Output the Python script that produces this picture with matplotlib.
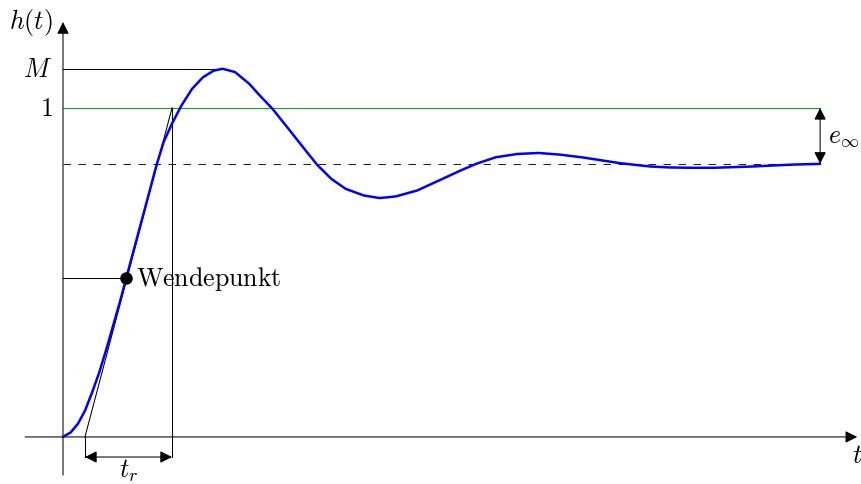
import matplotlib
matplotlib.use("Agg")
import matplotlib.pyplot as plt

plt.rcParams['mathtext.fontset'] = 'cm'
plt.rcParams['font.family'] = ['DejaVu Serif']

# ---- data (t in time units, h normalised so that 1 = reference level)
t_curve = [0.000, 0.102, 0.197, 0.291, 0.384, 0.479, 0.573, 0.668, 0.762, 0.834, 0.951, 1.092,
           1.234, 1.329, 1.437, 1.564, 1.705, 1.848, 1.989, 2.107, 2.272, 2.461, 2.602, 2.768,
           2.980, 3.169, 3.357, 3.546, 3.734, 3.971, 4.182, 4.395, 4.678, 4.962, 5.244, 5.456,
           5.716, 5.999, 6.283, 6.566, 6.848, 7.132, 7.358, 7.754, 8.018, 8.322, 8.587, 8.851,
           9.115, 9.379, 9.670, 10.000]
h_curve = [0.000, 0.014, 0.040, 0.080, 0.135, 0.196, 0.267, 0.343, 0.419, 0.482, 0.582, 0.703,
           0.825, 0.896, 0.951, 1.007, 1.058, 1.093, 1.113, 1.119, 1.109, 1.073, 1.037, 0.997,
           0.936, 0.881, 0.827, 0.784, 0.754, 0.734, 0.726, 0.731, 0.749, 0.779, 0.809, 0.830,
           0.850, 0.860, 0.863, 0.858, 0.850, 0.840, 0.832, 0.822, 0.819, 0.818, 0.818, 0.820,
           0.822, 0.825, 0.828, 0.830]

M_value = 1.119          # overshoot maximum
t_M = 2.107              # time of maximum
h_ref = 1.0              # reference value
h_inf = 0.830            # steady state value
t_w, h_w = 0.834, 0.482  # inflection point (Wendepunkt)
tan_t0, tan_t1 = 0.29, 1.44   # tangent crossing h=0 and h=1
t_end = 10.0

fig = plt.figure(figsize=(8.61, 4.85), dpi=100)
ax = fig.add_axes([0, 0, 1, 1])
ax.set_xlim(-0.832, 10.54)
ax.set_ylim(-0.143, 1.331)
ax.axis('off')

lw_thin = 0.75
fs = 18.6

# axes with arrows
arrow_kw = dict(arrowstyle='-|>', color='black', lw=lw_thin, shrinkA=0, shrinkB=0,
                mutation_scale=18)
ax.annotate('', xy=(0, 1.261), xytext=(0, -0.116), arrowprops=arrow_kw)
ax.annotate('', xy=(10.49, 0), xytext=(-0.50, 0), arrowprops=arrow_kw)

# reference lines
ax.plot([0, t_end], [h_ref, h_ref], color='#10a810', lw=lw_thin, zorder=2)
ax.plot([0, t_end], [h_inf, h_inf], color='#222222', lw=lw_thin, dashes=(7.2, 7.2), zorder=2)
ax.plot([0, t_M], [M_value, M_value], color='black', lw=lw_thin, zorder=2)
ax.plot([0, t_w], [h_w, h_w], color='black', lw=lw_thin, zorder=2)

# tangent and rise-time construction
ax.plot([tan_t0, tan_t1], [0, h_ref], color='black', lw=lw_thin, zorder=2)
y_tr = -0.061
ax.plot([tan_t1, tan_t1], [h_ref, y_tr], color='black', lw=lw_thin, zorder=2)
ax.plot([tan_t0, tan_t0], [0, y_tr], color='black', lw=lw_thin, zorder=2)
ax.annotate('', xy=(tan_t1, y_tr), xytext=(tan_t0, y_tr),
            arrowprops=dict(arrowstyle='<|-|>', color='black', lw=lw_thin, shrinkA=0,
                            shrinkB=0, mutation_scale=18))

# steady state error arrow
ax.annotate('', xy=(t_end, h_inf), xytext=(t_end, h_ref),
            arrowprops=dict(arrowstyle='<|-|>', color='black', lw=lw_thin, shrinkA=0,
                            shrinkB=0, mutation_scale=18))

# step response
ax.plot(t_curve, h_curve, color='#0000ff', lw=1.8, zorder=3,
        solid_joinstyle='round', solid_capstyle='round')
ax.plot([t_w], [h_w], 'o', color='black', ms=8, zorder=4)

# labels
ax.text(-0.42, 1.264, r'$h(t)$', fontsize=fs, ha='center', va='center')
ax.text(-0.145, M_value, r'$M$', fontsize=fs, ha='right', va='center')
ax.text(-0.13, h_ref, r'$1$', fontsize=fs, ha='right', va='center')
ax.text(t_w + 0.13, h_w, r'$\mathrm{Wendepunkt}$', fontsize=fs, ha='left', va='center')
ax.text((tan_t0 + tan_t1) / 2, -0.100, r'$t_r$', fontsize=fs, ha='center', va='center')
ax.text(t_end + 0.11, (h_ref + h_inf) / 2, r'$e_\infty$', fontsize=fs, ha='left', va='center')
ax.text(10.49, -0.052, r'$t$', fontsize=fs, ha='center', va='center')

fig.savefig('out.png', dpi=100)
